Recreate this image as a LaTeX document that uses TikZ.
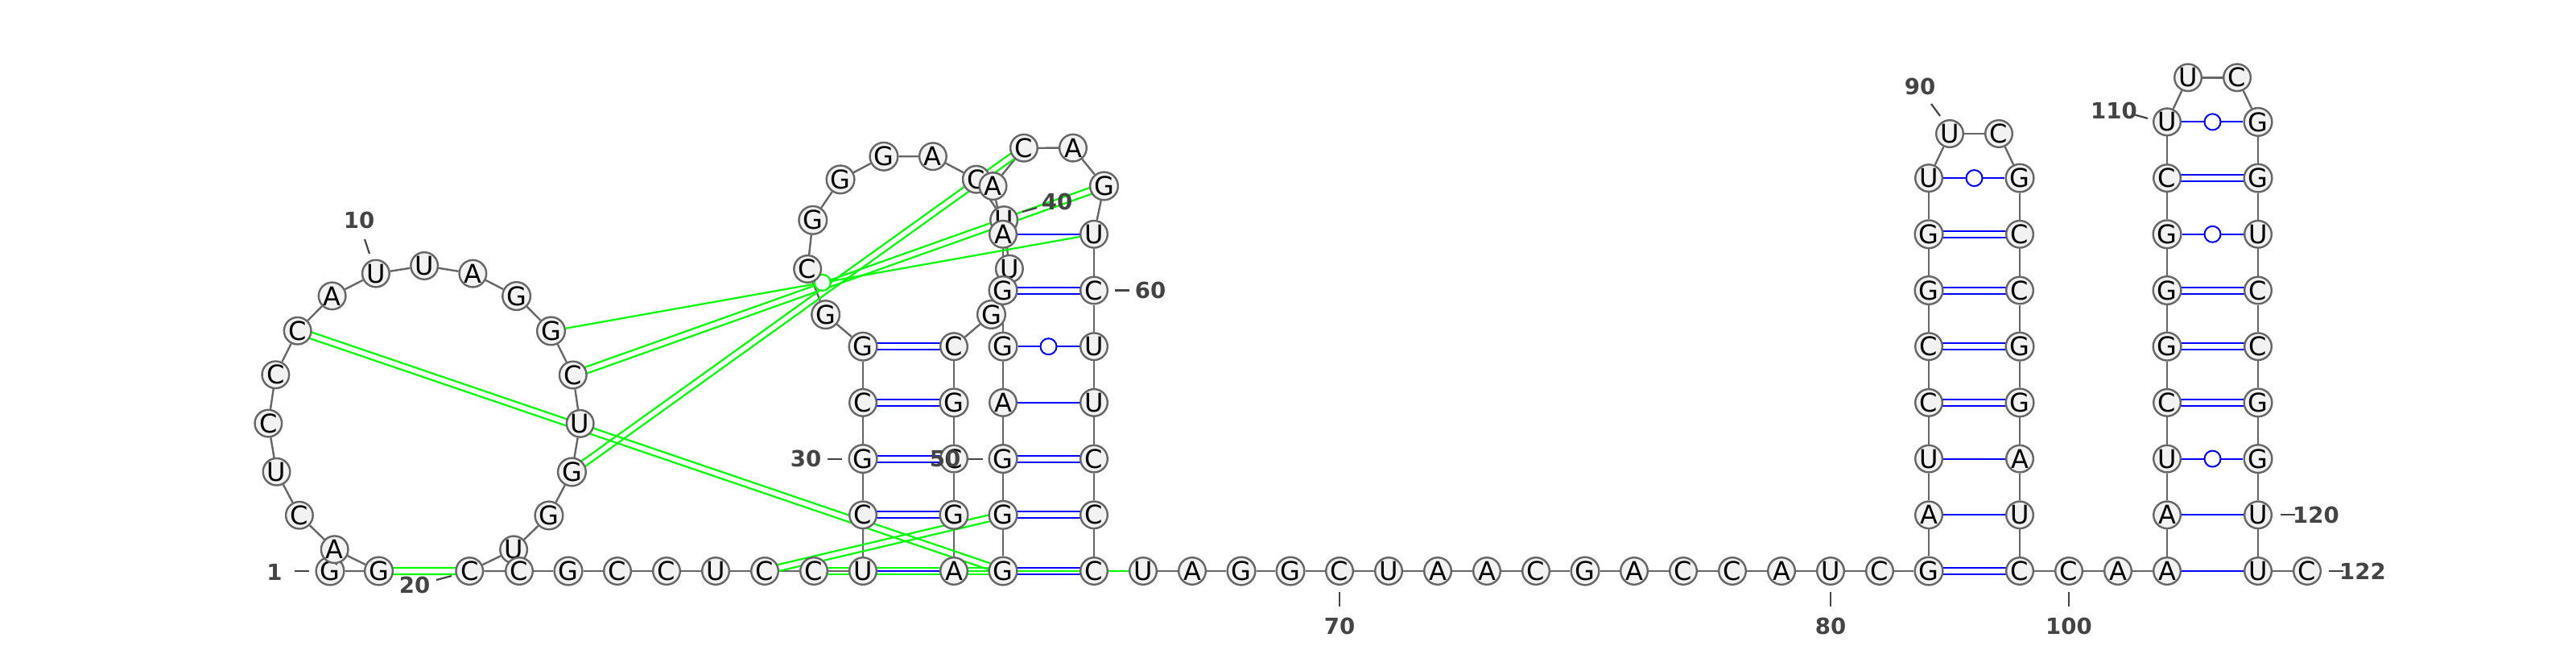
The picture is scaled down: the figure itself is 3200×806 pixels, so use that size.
\documentclass[tikz,border=0pt]{standalone}
\usepackage{fontspec}
\setmainfont{DejaVu Sans}
\usetikzlibrary{calc, backgrounds}
\definecolor{ntgray}{RGB}{102,102,102}
\definecolor{ntfill}{RGB}{242,242,242}
\definecolor{numgray}{RGB}{68,68,68}
\definecolor{pkgreen}{RGB}{0,255,0}
\newcommand{\pairline}[3]{%
  \draw[#1] ($(#2)!1pt!90:(#3)$) -- ($(#3)!1pt!-90:(#2)$);
  \draw[#1] ($(#2)!1pt!-90:(#3)$) -- ($(#3)!1pt!90:(#2)$);}

\begin{document}
\begin{tikzpicture}[x=0.25pt, y=0.25pt,
  nt/.style={circle, draw=ntgray, fill=ntfill, line width=0.6pt,
             minimum size=8.4pt, inner sep=0pt, font=\fontsize{8}{8}\selectfont},
  num/.style={text=numgray, inner sep=0pt, font=\fontsize{6.9}{7}\selectfont\bfseries},
  tic/.style={draw=numgray, line width=0.55pt},
  bb/.style={draw=ntgray, line width=0.6pt},
  wc/.style={draw=blue, line width=0.5pt},
  pk/.style={draw=pkgreen, line width=0.55pt}]
  \useasboundingbox (0,0) rectangle (3200,806);

  % 5' end and the big loop 2--20
  \node[nt] (n1) at (410,97) {G};
  \foreach \b [count=\k from 2] in {G,A,C,U,C,C,C,A,U,U,A,G,G,C,U,G,G,U,C}
    \node[nt] (n\k) at ($(527,282.3)+({253.04-18.12*(\k-2)}:193.7)$) {\b};
  \foreach \b [count=\k from 21] in {C,G,C,C,U,C,C,U}
    \node[nt] (n\k) at ({584+61*(\k-20)},97) {\b};

  % first hairpin 29--47
  \foreach \b [count=\k from 29] in {C,G,C,G}
    \node[nt] (n\k) at (1072,{97+69.7*(\k-28)}) {\b};
  \foreach \b [count=\k from 33] in {G,C,G,G,G,A,C,U,U,G}
    \node[nt] (n\k) at ($(1128.5,489)+({243.5-27.9*(\k-32)}:126.5)$) {\b};
  \foreach \b [count=\k from 43] in {C,G,C,G,A}
    \node[nt] (n\k) at (1185,{97+69.7*(47-\k)}) {\b};

  % second hairpin 48--65
  \foreach \b [count=\k from 48] in {G,G,G,A,G,G,A}
    \node[nt] (n\k) at (1246,{97+69.7*(\k-48)}) {\b};
  \foreach \b [count=\k from 55] in {A,C,A,G}
    \node[nt] (n\k) at ($(1302.5,558.2)+({217.3-50.9*(\k-54)}:71)$) {\b};
  \foreach \b [count=\k from 59] in {U,C,U,U,C,C,C}
    \node[nt] (n\k) at (1359,{97+69.7*(65-\k)}) {\b};

  % single strand 66--81
  \foreach \b [count=\k from 66] in {U,A,G,G,C,U,A,A,C,G,A,C,C,A,U,C}
    \node[nt] (n\k) at ({1420+61*(\k-66)},97) {\b};

  % third hairpin 82--99
  \foreach \b [count=\k from 82] in {G,A,U,C,C,G,G,U}
    \node[nt] (n\k) at (2396,{97+69.7*(\k-82)}) {\b};
  \node[nt] (n90) at (2422,640) {U};
  \node[nt] (n91) at (2483,640) {C};
  \foreach \b [count=\k from 92] in {G,C,C,G,G,A,U,C}
    \node[nt] (n\k) at (2509,{97+69.7*(99-\k)}) {\b};
  \node[nt] (n100) at (2570,97) {C};
  \node[nt] (n101) at (2631,97) {A};

  % fourth hairpin 102--121
  \foreach \b [count=\k from 102] in {A,A,U,C,G,G,G,C,U}
    \node[nt] (n\k) at (2692,{97+69.7*(\k-102)}) {\b};
  \node[nt] (n111) at (2718,709.7) {U};
  \node[nt] (n112) at (2779,709.7) {C};
  \foreach \b [count=\k from 113] in {G,G,U,C,C,G,G,U,U}
    \node[nt] (n\k) at (2805,{97+69.7*(121-\k)}) {\b};
  \node[nt] (n122) at (2866,97) {C};

  \begin{scope}[on background layer]
    % backbone
    \foreach \i [evaluate=\i as \j using int(\i+1)] in {1,...,121}
      \draw[bb] (n\i) -- (n\j);
    % helix pairs
    \foreach \a/\b in {28/47,51/62,54/59,83/98,84/97,102/121,103/120}
      \draw[wc] (n\a) -- (n\b);
    \foreach \a/\b in {29/46,30/45,31/44,32/43,48/65,49/64,50/63,53/60,
                       82/99,85/96,86/95,87/94,88/93,105/118,106/117,107/116,109/114}
      {\pairline{wc}{n\a}{n\b}}
    \foreach \a/\b in {52/61,89/92,104/119,108/115,110/113}
      {\draw[wc] (n\a) -- (n\b);
       \draw[wc, fill=white] ($(n\a)!0.5!(n\b)$) circle[radius=2.5pt];}
    % pseudoknot pairs
    \foreach \a/\b in {2/20,8/48,15/58,17/56,26/49,27/48}
      {\pairline{pk}{n\a}{n\b}}
    \draw[pk] (n47) -- (n66);
    \draw[pk] (n14) -- (n59);
    \draw[pk, fill=white] ($(n14)!0.5!(n59)$) circle[radius=2.5pt];
  \end{scope}

  % numbering
  \node[num] (l1) at (341,96) {1};
  \draw[tic] (366,97) -- (384,97);
  \node[num] (l10) at (446,533) {10};
  \draw[tic] (459,491) -- (453,509);
  \node[num] (l20) at (515,80) {20};
  \draw[tic] (542,86) -- (561,91);
  \node[num] (l30) at (1001,237) {30};
  \draw[tic] (1028,236.4) -- (1046,236.4);
  \node[num] (l40) at (1313,556) {40};
  \draw[tic] (1270,543) -- (1288,548);
  \node[num] (l50) at (1174,237) {50};
  \draw[tic] (1203,236.4) -- (1221,236.4);
  \node[num] (l60) at (1429,445.5) {60};
  \draw[tic] (1385,445.5) -- (1403,445.5);
  \node[num] (l70) at (1664,29) {70};
  \draw[tic] (1664,71) -- (1664,53);
  \node[num] (l80) at (2274,29) {80};
  \draw[tic] (2274,71) -- (2274,53);
  \node[num] (l90) at (2385,699) {90};
  \draw[tic] (2399,677) -- (2410,662);
  \node[num] (l100) at (2570,29) {100};
  \draw[tic] (2570,71) -- (2570,53);
  \node[num] (l110) at (2626,669) {110};
  \draw[tic] (2650,664) -- (2668,659);
  \node[num] (l120) at (2877,166.7) {120};
  \draw[tic] (2833,166.7) -- (2851,166.7);
  \node[num] (l122) at (2935,97) {122};
  \draw[tic] (2893,97) -- (2911,97);
\end{tikzpicture}
\end{document}
